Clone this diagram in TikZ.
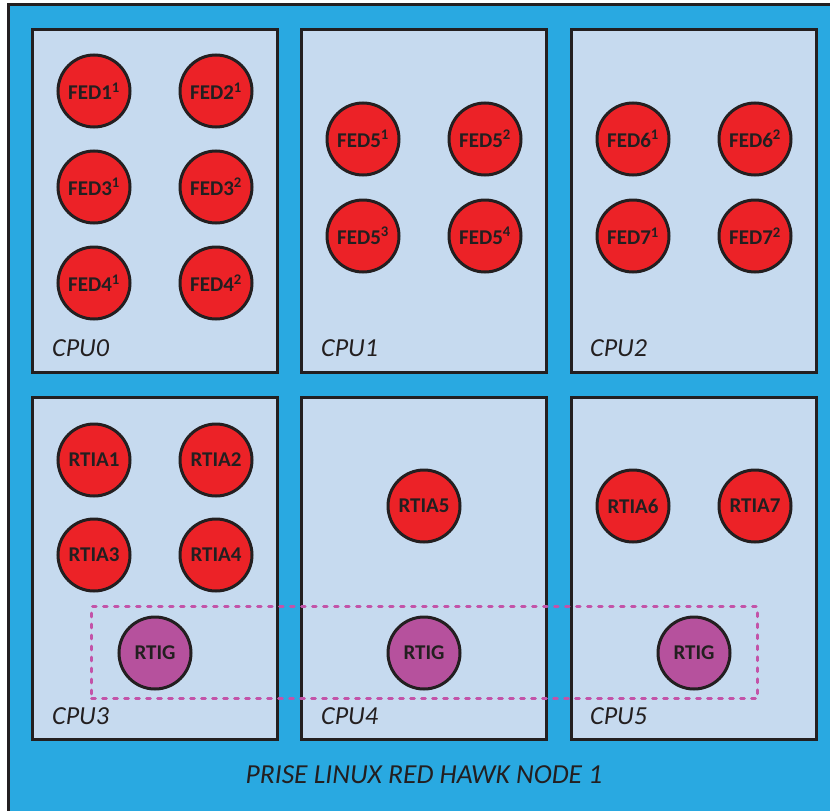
\documentclass[tikz,border=0pt]{standalone}
\usepackage{fontspec}
\setmainfont{Carlito}
\definecolor{nodeblue}{HTML}{29A9E1}
\definecolor{cpufill}{HTML}{C6DAEF}
\definecolor{fedred}{HTML}{EC2227}
\definecolor{rtigpurple}{HTML}{B6519D}
\definecolor{groupline}{HTML}{C353A8}
\definecolor{ink}{HTML}{231F20}
\begin{document}
\begin{tikzpicture}[x=1pt,y=-1pt,
  cpubox/.style={draw=ink, line width=3pt, fill=cpufill, rectangle,
    minimum width=245pt, inner sep=0pt},
  fed/.style={circle, draw=ink, line width=3pt, fill=fedred, minimum size=72pt,
    inner sep=0pt, text=ink, font=\fontsize{21}{21}\selectfont\bfseries},
  rtig/.style={fed, fill=rtigpurple},
  cpulabel/.style={anchor=west, text=ink, inner sep=0pt,
    font=\fontsize{26}{26}\selectfont\itshape},
  grouprect/.style={draw=groupline, line width=3pt, dash pattern=on 3.7pt off 7.3pt,
    line cap=round, rectangle, inner sep=0pt}]
\useasboundingbox (0,0) rectangle (830,811);
\clip (0,0) rectangle (830,811);
% host node background
\draw[draw=ink, line width=3pt, fill=nodeblue] (8,4) rectangle (850,830);

% CPU boxes
\node[cpubox, minimum height=343pt] (cpu0) at (155,200.5) {};
\node[cpubox, minimum height=343pt] (cpu1) at (424,200.5) {};
\node[cpubox, minimum height=343pt] (cpu2) at (694,200.5) {};
\node[cpubox, minimum height=342pt] (cpu3) at (155,568) {};
\node[cpubox, minimum height=342pt] (cpu4) at (424,568) {};
\node[cpubox, minimum height=342pt] (cpu5) at (694,568) {};

% CPU labels
\node[cpulabel] (lcpu0) at (52,348) {CPU0};
\node[cpulabel] (lcpu1) at (321,348) {CPU1};
\node[cpulabel] (lcpu2) at (590,348) {CPU2};
\node[cpulabel] (lcpu3) at (52,716) {CPU3};
\node[cpulabel] (lcpu4) at (321,716) {CPU4};
\node[cpulabel] (lcpu5) at (590,716) {CPU5};

% federates on CPU0
\node[fed] (fed11) at (94,91) {FED1\textsuperscript{1}};
\node[fed] (fed21) at (216,91) {FED2\textsuperscript{1}};
\node[fed] (fed31) at (94,187) {FED3\textsuperscript{1}};
\node[fed] (fed32) at (216,187) {FED3\textsuperscript{2}};
\node[fed] (fed41) at (94,283) {FED4\textsuperscript{1}};
\node[fed] (fed42) at (216,283) {FED4\textsuperscript{2}};

% federates on CPU1
\node[fed] (fed51) at (363,139) {FED5\textsuperscript{1}};
\node[fed] (fed52) at (485,139) {FED5\textsuperscript{2}};
\node[fed] (fed53) at (363,236) {FED5\textsuperscript{3}};
\node[fed] (fed54) at (485,236) {FED5\textsuperscript{4}};

% federates on CPU2
\node[fed] (fed61) at (633,139) {FED6\textsuperscript{1}};
\node[fed] (fed62) at (755,139) {FED6\textsuperscript{2}};
\node[fed] (fed71) at (633,236) {FED7\textsuperscript{1}};
\node[fed] (fed72) at (755,236) {FED7\textsuperscript{2}};

% RTI ambassadors
\node[fed] (rtia1) at (94,460) {RTIA1};
\node[fed] (rtia2) at (216,460) {RTIA2};
\node[fed] (rtia3) at (94,555) {RTIA3};
\node[fed] (rtia4) at (216,555) {RTIA4};
\node[fed] (rtia5) at (424,506) {RTIA5};
\node[fed] (rtia6) at (633,506) {RTIA6};
\node[fed] (rtia7) at (755,506) {RTIA7};

% RTI gateways
\node[rtig] (rtig3) at (155,653) {RTIG};
\node[rtig] (rtig4) at (424,653) {RTIG};
\node[rtig] (rtig5) at (694,653) {RTIG};

% gateway group
\node[grouprect, minimum width=665.6pt, minimum height=92.3pt] (rtiggroup) at (424.5,652.8) {};

% host title
\node[text=ink, font=\fontsize{27.5}{27.5}\selectfont\itshape] (hosttitle) at (424,775) {PRISE LINUX RED HAWK NODE 1};
\end{tikzpicture}
\end{document}
